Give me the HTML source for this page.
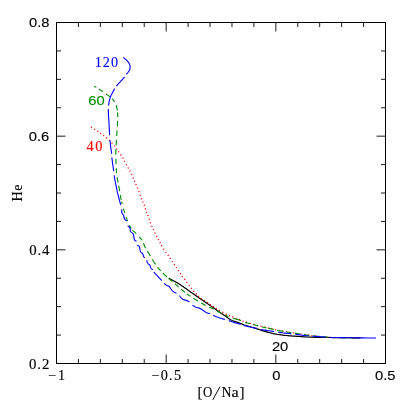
<!DOCTYPE html>
<html><head><meta charset="utf-8"><style>
html,body{margin:0;padding:0;background:#fff;overflow:hidden}
svg{display:block;will-change:transform}
.s{font-family:"Liberation Sans",sans-serif;}
.r{font-family:"Liberation Serif",serif;}
</style></head><body>
<svg width="407" height="407" viewBox="0 0 407 407">
<rect width="407" height="407" fill="#fff"/>
<rect x="56.5" y="22.5" width="329.0" height="341.0" fill="none" stroke="#000" stroke-width="1"/>
<path d="M56.50 363.5v-9M56.50 22.5v9M78.43 363.5v-4.5M78.43 22.5v4.5M100.37 363.5v-4.5M100.37 22.5v4.5M122.30 363.5v-4.5M122.30 22.5v4.5M144.23 363.5v-4.5M144.23 22.5v4.5M166.17 363.5v-9M166.17 22.5v9M188.10 363.5v-4.5M188.10 22.5v4.5M210.03 363.5v-4.5M210.03 22.5v4.5M231.97 363.5v-4.5M231.97 22.5v4.5M253.90 363.5v-4.5M253.90 22.5v4.5M275.83 363.5v-9M275.83 22.5v9M297.77 363.5v-4.5M297.77 22.5v4.5M319.70 363.5v-4.5M319.70 22.5v4.5M341.63 363.5v-4.5M341.63 22.5v4.5M363.57 363.5v-4.5M363.57 22.5v4.5M385.50 363.5v-9M385.50 22.5v9M56.5 363.50h9M385.5 363.50h-9M56.5 335.08h4.5M385.5 335.08h-4.5M56.5 306.67h4.5M385.5 306.67h-4.5M56.5 278.25h4.5M385.5 278.25h-4.5M56.5 249.83h9M385.5 249.83h-9M56.5 221.42h4.5M385.5 221.42h-4.5M56.5 193.00h4.5M385.5 193.00h-4.5M56.5 164.58h4.5M385.5 164.58h-4.5M56.5 136.17h9M385.5 136.17h-9M56.5 107.75h4.5M385.5 107.75h-4.5M56.5 79.33h4.5M385.5 79.33h-4.5M56.5 50.92h4.5M385.5 50.92h-4.5M56.5 22.50h9M385.5 22.50h-9" stroke="#000" stroke-width="0.9" fill="none"/>
<path d="M168.80 278.20L170.63 279.21L172.47 280.20L174.32 281.20L176.15 282.21L177.95 283.24L179.70 284.30L181.39 285.40L183.03 286.53L184.64 287.68L186.24 288.85L187.85 290.02L189.50 291.20L191.19 292.39L192.91 293.59L194.64 294.81L196.38 296.02L198.10 297.22L199.80 298.40L201.47 299.56L203.13 300.69L204.78 301.82L206.42 302.94L208.06 304.07L209.70 305.20L211.39 306.38L213.14 307.61L214.88 308.85L216.56 310.04L218.12 311.14L219.50 312.10L220.66 312.89L221.64 313.55L222.51 314.11L223.30 314.63L224.08 315.14L224.90 315.70L225.76 316.31L226.60 316.93L227.44 317.56L228.25 318.16L229.04 318.71L229.80 319.20L230.50 319.61L231.13 319.95L231.74 320.24L232.36 320.52L233.03 320.80L233.80 321.10L234.68 321.43L235.66 321.76L236.69 322.09L237.74 322.43L238.75 322.77L239.70 323.10L240.57 323.44L241.41 323.79L242.21 324.14L243.00 324.48L243.79 324.80L244.60 325.10L245.41 325.36L246.21 325.60L247.01 325.82L247.82 326.03L248.65 326.26L249.50 326.50L250.33 326.75L251.13 326.99L251.94 327.24L252.83 327.51L253.83 327.83L255.00 328.20L256.38 328.65L257.94 329.18L259.62 329.75L261.37 330.33L263.11 330.89L264.80 331.40L266.45 331.87L268.10 332.33L269.75 332.76L271.40 333.17L273.05 333.56L274.70 333.90L276.33 334.20L277.95 334.47L279.56 334.70L281.19 334.91L282.83 335.11L284.50 335.30L286.16 335.48L287.79 335.64L289.44 335.78L291.16 335.92L293.00 336.06L295.00 336.20L297.14 336.36L299.38 336.52L301.74 336.68L304.23 336.84L306.88 336.98L309.70 337.10L312.88 337.20L316.43 337.28L320.14 337.35L323.79 337.41L327.15 337.46L330.00 337.50L332.15 337.53L333.73 337.55L335.02 337.56L336.31 337.56L337.87 337.58L340.00 337.60L342.75 337.64L345.93 337.69L349.38 337.74L352.96 337.79L356.55 337.85L360.00 337.90" stroke="#000" stroke-width="1.2000000000000002" fill="none" stroke-linejoin="round"/>
<path d="M90.93 127.12L91.87 127.68M94.13 129.01L95.07 129.59M97.35 130.99L98.25 131.61M100.26 132.97L101.14 133.63M103.28 135.15L104.12 135.85M106.19 137.53L107.01 138.27M109.02 140.00L109.78 140.80M111.64 142.68L112.36 143.52M114.17 145.56L114.83 146.44M116.48 148.55L117.12 149.45M118.49 151.34L119.11 152.26M120.61 154.43L121.19 155.37M122.65 157.61L123.15 158.59M124.23 160.82L124.77 161.78M126.14 164.22L126.66 165.18M127.94 167.52L128.46 168.48M129.66 170.61L130.14 171.59M131.38 174.10L131.82 175.10M132.87 177.50L133.33 178.50M134.39 180.79L134.81 181.81M135.78 184.10L136.22 185.10M137.30 187.49L137.70 188.51M138.71 191.09L139.09 192.11M140.12 194.78L140.48 195.82M141.29 198.19L141.71 199.21M142.58 201.40L143.02 202.40M144.14 204.78L144.46 205.82M145.24 208.27L145.56 209.33M146.28 211.90L146.72 212.90M147.72 215.08L148.08 216.12M149.02 218.78L149.38 219.82M150.20 222.29L150.60 223.31M151.56 225.81L152.04 226.79M153.16 229.11L153.64 230.09M154.77 232.40L155.23 233.40M156.33 235.92L156.87 236.88M158.14 239.12L158.66 240.08M159.87 242.20L160.33 243.20M161.30 245.44L161.90 246.36M163.39 248.75L164.01 249.65M165.67 252.06L166.33 252.94M167.89 254.94L168.51 255.86M169.90 257.94L170.50 258.86M171.88 261.05L172.52 261.95M174.09 264.15L174.71 265.05M176.10 267.04L176.70 267.96M178.19 270.25L178.81 271.15M180.20 273.14L180.80 274.06M182.07 276.06L182.73 276.94M184.28 278.95L184.92 279.85M186.34 281.98L187.06 282.82M188.87 284.86L189.53 285.74M191.05 287.88L191.75 288.72M193.51 290.91L194.29 291.69M196.04 293.39L196.76 294.21M198.18 295.94L199.02 296.66M200.84 298.29L201.76 298.91M203.83 300.31L204.77 300.89M207.05 302.28L207.95 302.92M209.94 304.39L210.86 305.01M212.93 306.41L213.87 306.99M215.83 308.22L216.77 308.78M219.03 310.12L219.97 310.68M222.41 312.15L223.39 312.65M225.70 313.87L226.70 314.33M228.99 315.40L230.01 315.80M232.29 316.70L233.31 317.10M235.69 317.99L236.71 318.41M239.00 319.38L240.00 319.82M242.58 321.03L243.62 321.37M245.98 322.13L247.02 322.47M249.77 323.35L250.83 323.65M253.37 324.35L254.43 324.65M256.92 325.40L257.61 325.61L257.97 325.71M260.49 326.38L260.83 326.46L261.56 326.62M264.10 327.17L265.18 327.39M267.72 327.93L267.81 327.94L268.80 328.15M271.34 328.69L272.12 328.85L272.42 328.92M274.95 329.53L275.34 329.65L275.74 329.80L275.98 329.90M278.52 330.42L278.96 330.49L279.61 330.57M282.19 330.90L282.31 330.92L283.28 331.07M285.83 331.53L286.00 331.56L286.91 331.75M289.47 332.25L290.03 332.35L290.55 332.45M293.11 332.88L294.16 333.04L294.20 333.05M296.77 333.43L297.00 333.47L297.86 333.59M300.43 333.96L301.52 334.12M304.09 334.48L304.91 334.60L305.18 334.64M307.76 334.99L308.32 335.07L308.85 335.14M311.42 335.50L311.67 335.53L312.51 335.65M315.09 336.00L316.18 336.14M318.76 336.46L319.85 336.58M322.44 336.84L323.33 336.93L323.54 336.94M326.13 337.16L326.67 337.20L327.23 337.23M329.82 337.39L330.00 337.40L330.92 337.44M333.52 337.52L334.31 337.53L334.62 337.53M337.22 337.56L337.70 337.57L338.32 337.58M340.92 337.61L342.02 337.63M344.62 337.67L345.72 337.69M348.32 337.72L349.42 337.74M352.02 337.77L353.12 337.79M355.72 337.83L356.82 337.84M359.42 337.88L360.52 337.89" stroke="#f00" stroke-width="1.27" fill="none"/>
<path d="M94.20 86.20L94.99 86.67L95.79 87.14L96.29 87.43M98.90 89.00L99.62 89.46L100.32 89.92L101.00 90.38L101.66 90.83L102.29 91.27L102.90 91.70M106.00 94.00L106.62 94.43L107.31 94.90L108.01 95.37L108.70 95.84L109.34 96.29L109.90 96.70M112.00 98.70L112.43 99.17L112.90 99.68L113.39 100.23L113.87 100.80L114.31 101.36L114.70 101.90M116.20 105.00L116.41 105.77L116.62 106.62L116.81 107.54L116.99 108.50L117.16 109.50L117.30 110.50M117.51 112.40L117.54 112.69L117.63 113.84L117.71 114.98L117.76 116.05L117.80 117.00M117.60 121.00L117.56 121.78L117.52 122.57L117.47 123.41L117.43 124.31L117.37 125.33L117.30 126.50M117.06 130.40L117.02 131.01L116.91 132.69L116.80 134.38L116.70 136.00M116.44 139.90L116.38 140.71L116.28 142.27L116.18 143.83L116.10 145.40M115.93 149.30L115.89 150.10L115.84 151.67L115.81 153.23L115.80 154.80M115.88 158.70L115.91 159.54L115.97 161.12L116.04 162.67L116.10 164.20M116.26 168.20L116.29 168.88L116.36 170.36L116.43 171.72L116.50 172.90L116.51 173.10M117.00 177.10L117.14 177.91L117.30 178.72L117.48 179.57L117.67 180.49L117.88 181.49L118.10 182.60M118.68 185.68L118.87 186.70L119.16 188.21L119.43 189.72L119.70 191.20M120.35 195.16L120.41 195.54L120.65 197.00L120.91 198.45L121.20 199.90M121.56 201.51L121.91 202.96L122.22 204.20M123.40 208.60L123.68 209.54L123.91 210.25L124.12 210.84L124.34 211.42L124.59 212.10L124.90 213.00M126.09 216.77L126.11 216.85L126.58 218.30L127.08 219.74L127.60 221.10M129.40 225.30L129.93 226.39L130.60 227.60L131.18 228.51M132.48 230.11L132.95 230.60L133.85 231.42L134.74 232.19L135.57 232.91L136.30 233.60M139.20 236.80L139.68 237.32L140.14 237.79L140.61 238.26L141.09 238.80L141.58 239.46L142.10 240.30M143.43 243.19L143.73 243.93L144.31 245.33L144.93 246.74L145.60 248.10M147.35 251.13L147.90 252.01L148.73 253.33L149.57 254.65L150.40 256.00M152.38 259.36L152.92 260.29L153.77 261.72L154.63 263.10L155.50 264.40M157.56 267.15L158.08 267.79L158.96 268.83L159.86 269.86L160.80 270.90M162.84 273.06L163.89 274.13L164.96 275.18L166.00 276.17L167.00 277.10M168.66 278.52L168.83 278.66L169.70 279.34L170.57 280.02L171.46 280.72L172.40 281.50M174.99 283.79L175.43 284.18L176.48 285.13L177.54 286.07L178.60 287.00M181.17 289.22L181.90 289.86L183.00 290.79L184.08 291.68L185.10 292.50M186.79 293.77L186.91 293.86L187.74 294.45L188.59 295.03L189.50 295.63L190.50 296.30M193.35 298.16L194.05 298.61L195.33 299.41L196.62 300.22L197.90 301.00M201.24 303.00L201.77 303.31L203.08 304.07L204.39 304.80L205.70 305.50M209.21 307.17L209.65 307.37L210.97 307.96L212.29 308.56L213.60 309.20M217.04 311.03L217.74 311.42L219.09 312.16L220.32 312.83L221.40 313.40M225.40 315.20L225.94 315.43L226.42 315.62L226.88 315.80L227.33 315.98L227.83 316.17L228.40 316.40M232.80 318.20L234.01 318.57L235.44 318.98L236.98 319.40L238.51 319.82L239.92 320.23L241.10 320.60M245.10 322.40L245.88 322.64L246.72 322.85L247.59 323.05L248.44 323.24L249.26 323.42L250.00 323.60M253.40 324.60L254.14 324.82L254.97 325.06L255.84 325.31L256.71 325.56L257.54 325.79L258.30 326.00M261.90 326.90L263.49 327.24L265.54 327.67L266.31 327.83M268.31 328.25L270.09 328.62L272.12 329.05L273.70 329.40M277.10 330.40L277.98 330.55L278.96 330.69L280.02 330.82L281.14 330.96L282.31 331.12L283.50 331.30M285.91 331.75L286.00 331.77L287.31 332.03L288.66 332.30L290.03 332.56L291.40 332.80M294.86 333.31L295.57 333.41L297.00 333.60L298.48 333.79L300.00 334.00L300.31 334.04M304.08 334.58L304.91 334.70L306.61 334.94L308.32 335.18L309.52 335.34M313.29 335.82L313.33 335.83L315.00 336.04L316.67 336.24L318.33 336.43L318.75 336.47M322.53 336.84L323.33 336.92L325.00 337.06L326.67 337.19L328.02 337.28M331.81 337.47L332.94 337.51L334.34 337.53L335.89 337.55L337.31 337.56M341.11 337.62L342.81 337.64L346.06 337.69L346.61 337.70M350.41 337.76L353.28 337.80L355.91 337.83M359.71 337.89L360.50 337.90" stroke="#008c00" stroke-width="1.12" fill="none"/>
<path d="M123.20 57.40L123.77 57.83L124.34 58.26L124.91 58.68L125.47 59.13L126.00 59.60L126.52 60.11L127.04 60.64L127.53 61.20L127.99 61.75L128.40 62.30L128.76 62.85L129.08 63.40L129.37 63.95L129.61 64.49L129.80 65.00L129.94 65.48L130.04 65.92L130.10 66.36L130.12 66.81L130.10 67.30L130.05 67.84L129.97 68.41L129.85 69.00L129.69 69.57L129.50 70.10L129.26 70.58L128.98 71.03L128.66 71.46L128.33 71.88L128.00 72.30L127.66 72.71L127.30 73.11L126.93 73.51L126.56 73.90L126.20 74.30M124.60 77.00L123.76 77.92L122.92 78.84L122.08 79.76L121.24 80.68L120.40 81.60L119.56 82.52L118.72 83.44L117.88 84.36L117.04 85.28L116.20 86.20M114.70 88.50L113.92 89.96L113.11 91.47L112.32 92.95L111.60 94.35L111.00 95.60L110.55 96.66L110.21 97.56L109.94 98.38L109.72 99.18L109.50 100.00L109.29 100.90L109.12 101.83L108.97 102.73L108.85 103.54L108.75 104.20L108.68 104.66L108.65 104.96L108.63 105.17L108.62 105.36L108.60 105.60M108.40 109.00L108.39 109.99L108.38 110.98L108.37 111.97L108.37 112.97L108.40 114.00L108.45 115.02L108.53 116.03L108.62 117.06L108.71 118.17L108.80 119.40L108.88 120.77L108.96 122.25L109.04 123.81L109.12 125.41L109.20 127.00L109.28 128.60L109.36 130.24L109.44 131.89L109.52 133.55L109.60 135.20M109.90 140.00L110.06 141.40L110.21 142.80L110.37 144.21L110.53 145.61L110.70 147.00L110.89 148.39L111.09 149.77L111.29 151.14L111.50 152.52L111.70 153.90M111.80 157.40L111.98 158.71L112.16 160.02L112.33 161.32L112.51 162.65L112.70 164.00L112.89 165.39L113.09 166.80L113.30 168.24L113.50 169.67L113.70 171.10M114.10 175.40L114.34 176.73L114.58 178.06L114.81 179.39L115.05 180.71L115.30 182.00L115.56 183.30L115.84 184.62L116.12 185.90L116.38 187.11L116.60 188.20L116.76 189.09L116.88 189.81L116.98 190.47L117.11 191.20L117.30 192.10L117.58 193.22L117.91 194.48L118.27 195.82L118.64 197.18L119.00 198.50L119.34 199.78L119.68 201.06L120.02 202.34L120.36 203.62L120.70 204.90M121.80 209.30L121.77 209.96L121.71 210.63L121.66 211.30L121.68 211.96L121.80 212.60L122.08 213.22L122.49 213.82L122.94 214.41L123.37 215.00L123.70 215.60L123.87 216.21L123.95 216.82L123.99 217.44L124.09 218.03L124.30 218.60L124.66 219.13L125.13 219.64L125.65 220.12L126.19 220.61L126.70 221.10M127.70 225.70L128.21 226.21L128.76 226.72L129.29 227.22L129.75 227.75L130.10 228.30L130.25 228.90L130.25 229.53L130.20 230.18L130.21 230.81L130.40 231.40L130.83 231.92L131.44 232.39L132.10 232.84L132.73 233.33L133.20 233.90L133.49 234.58L133.67 235.35L133.78 236.14L133.88 236.91L134.00 237.60L134.13 238.21L134.23 238.79L134.35 239.32L134.49 239.79L134.70 240.20L134.99 240.52L135.34 240.75L135.73 240.93L136.12 241.10L136.50 241.30M137.20 245.20L137.68 245.47L138.19 245.69L138.68 245.94L139.13 246.28L139.50 246.80L139.75 247.58L139.89 248.57L140.00 249.64L140.15 250.66L140.40 251.50L140.81 252.12L141.33 252.61L141.88 253.03L142.40 253.44L142.80 253.90L143.06 254.45L143.22 255.04L143.33 255.62L143.44 256.16L143.60 256.60L143.81 256.92L144.05 257.16L144.30 257.34L144.55 257.51L144.80 257.70M146.70 260.40L146.90 261.00L147.09 261.61L147.29 262.21L147.52 262.78L147.80 263.30L148.17 263.73L148.62 264.09L149.09 264.42L149.53 264.78L149.90 265.20L150.16 265.72L150.34 266.31L150.49 266.92L150.66 267.50L150.90 268.00L151.22 268.41L151.60 268.76L152.00 269.07L152.41 269.38L152.80 269.70M153.80 272.10L154.60 272.94L155.40 273.78L156.21 274.62L157.01 275.46L157.80 276.30L158.59 277.14L159.37 277.98L160.14 278.82L160.92 279.66L161.70 280.50M164.10 283.40L164.67 283.84L165.24 284.29L165.82 284.74L166.37 285.15L166.90 285.50L167.40 285.74L167.87 285.88L168.32 286.01L168.76 286.19L169.20 286.50L169.63 286.98L170.04 287.58L170.44 288.25L170.86 288.91L171.30 289.50L171.77 290.04L172.26 290.56L172.77 291.05L173.28 291.50L173.80 291.90L174.33 292.23L174.87 292.50L175.41 292.73L175.96 292.96L176.50 293.20M179.50 295.60L179.81 296.05L180.12 296.51L180.43 296.96L180.75 297.40L181.10 297.80L181.44 298.16L181.78 298.50L182.14 298.82L182.57 299.12L183.10 299.40L183.78 299.66L184.59 299.90L185.45 300.12L186.28 300.35L187.00 300.60L187.59 300.87L188.10 301.15L188.57 301.43L189.02 301.72L189.50 302.00M192.50 305.30L193.17 305.69L193.82 306.09L194.48 306.48L195.16 306.86L195.90 307.20L196.70 307.47L197.55 307.68L198.42 307.88L199.31 308.13L200.20 308.50L201.11 309.03L202.06 309.69L203.00 310.39L203.89 311.05L204.70 311.60L205.41 312.02L206.04 312.36L206.62 312.65L207.16 312.89L207.70 313.10L208.22 313.26L208.70 313.37L209.17 313.45L209.63 313.52L210.10 313.60M213.10 315.40L214.16 315.82L215.21 316.24L216.27 316.67L217.36 317.09L218.50 317.50L219.72 317.91L220.99 318.31L222.29 318.70L223.60 319.10L224.90 319.50M228.80 320.60L229.98 321.00L231.16 321.41L232.34 321.81L233.52 322.21L234.70 322.60L235.88 322.97L237.06 323.33L238.24 323.69L239.42 324.04L240.60 324.40M243.60 325.40L244.87 325.72L246.13 326.05L247.40 326.37L248.68 326.69L250.00 327.00L251.36 327.29L252.76 327.57L254.17 327.85L255.59 328.12L257.00 328.40M260.90 329.50L262.22 329.72L263.54 329.95L264.85 330.17L266.17 330.39L267.50 330.60L268.83 330.79L270.17 330.97L271.52 331.15L272.86 331.32L274.20 331.50M278.10 332.30L279.49 332.46L280.88 332.63L282.28 332.79L283.65 332.95L285.00 333.10L286.31 333.23L287.60 333.35L288.86 333.47L290.13 333.58L291.40 333.70M295.30 334.30L296.64 334.48L297.98 334.67L299.33 334.85L300.67 335.03L302.00 335.20L303.33 335.35L304.65 335.49L305.96 335.63L307.28 335.76L308.60 335.90M312.50 336.20L313.80 336.30L315.09 336.40L316.38 336.51L317.68 336.61L319.00 336.70L320.34 336.79L321.70 336.87L323.07 336.94L324.44 337.02L325.80 337.10M329.70 337.40L331.60 337.44L333.35 337.48L335.18 337.51L337.32 337.55L340.00 337.60L343.44 337.66L347.49 337.72L351.82 337.79L356.10 337.85L360.00 337.90L363.46 337.93L366.69 337.95L369.79 337.97L372.86 337.98L376.00 338.00" stroke="#00f" stroke-width="1.12" fill="none" stroke-linejoin="round"/>
<text class="s" transform="translate(49.5,27.0) scale(1.085,1)" text-anchor="end" font-size="13.6" fill="#000" stroke="#000" stroke-width="0.12">0.8</text>
<text class="s" transform="translate(49.3,140.7) scale(1.085,1)" text-anchor="end" font-size="13.6" fill="#000" stroke="#000" stroke-width="0.12">0.6</text>
<text class="r" x="50.4" y="254.8" text-anchor="end" letter-spacing="0.9" font-size="14.8" fill="#000" stroke="#000" stroke-width="0.15" >0.4</text>
<text class="r" x="50.2" y="368.5" text-anchor="end" letter-spacing="0.9" font-size="14.8" fill="#000" stroke="#000" stroke-width="0.15" >0.2</text>
<text class="r" x="67.0" y="380.1" text-anchor="end" letter-spacing="1.9" font-size="14.2" fill="#000" stroke="#000" stroke-width="0.15" >−1</text>
<text class="r" x="182.3" y="380.0" text-anchor="end" letter-spacing="1.3" font-size="14.2" fill="#000" stroke="#000" stroke-width="0.15" >−0.5</text>
<text class="s" transform="translate(276.3,380.0) scale(1.085,1)" text-anchor="middle" font-size="13.6" fill="#000" stroke="#000" stroke-width="0.12">0</text>
<text class="s" transform="translate(385.3,380.0) scale(1.085,1)" text-anchor="middle" font-size="13.6" fill="#000" stroke="#000" stroke-width="0.12">0.5</text>
<g class="r" font-size="15" stroke="#000" stroke-width="0.12"><text x="197.4" y="397.4">[</text><text transform="translate(203.1,397.4) scale(0.86,1)">O</text><path d="M212.8 399.9L219.9 386.7" stroke-width="0.95" fill="none"/><text transform="translate(221.4,397.4) scale(0.92,1)">N</text><text transform="translate(231.4,397.4) scale(1.08,1)">a</text><text x="239.5" y="397.4">]</text></g>
<text class="r" transform="translate(22.3,192.6) rotate(-90) scale(0.93,1)" text-anchor="middle" letter-spacing="0.6" font-size="15.2" stroke="#000" stroke-width="0.12">He</text>
<text class="r" x="119.0" y="66.6" text-anchor="end" letter-spacing="1.0" font-size="14.2" fill="#00f" stroke="#00f" stroke-width="0.1" >120</text>
<text class="s" transform="translate(104.6,105.0) scale(1.085,1)" text-anchor="end" font-size="13.6" fill="#008c00" stroke="#008c00" stroke-width="0.12">60</text>
<text class="r" x="104.0" y="151.1" text-anchor="end" letter-spacing="1.5" font-size="14.4" fill="#f00" stroke="#f00" stroke-width="0.15" >40</text>
<text class="s" transform="translate(288.3,350.9) scale(1.085,1)" text-anchor="end" font-size="13.6" fill="#000" stroke="#000" stroke-width="0.12">20</text>
</svg>
</body></html>
